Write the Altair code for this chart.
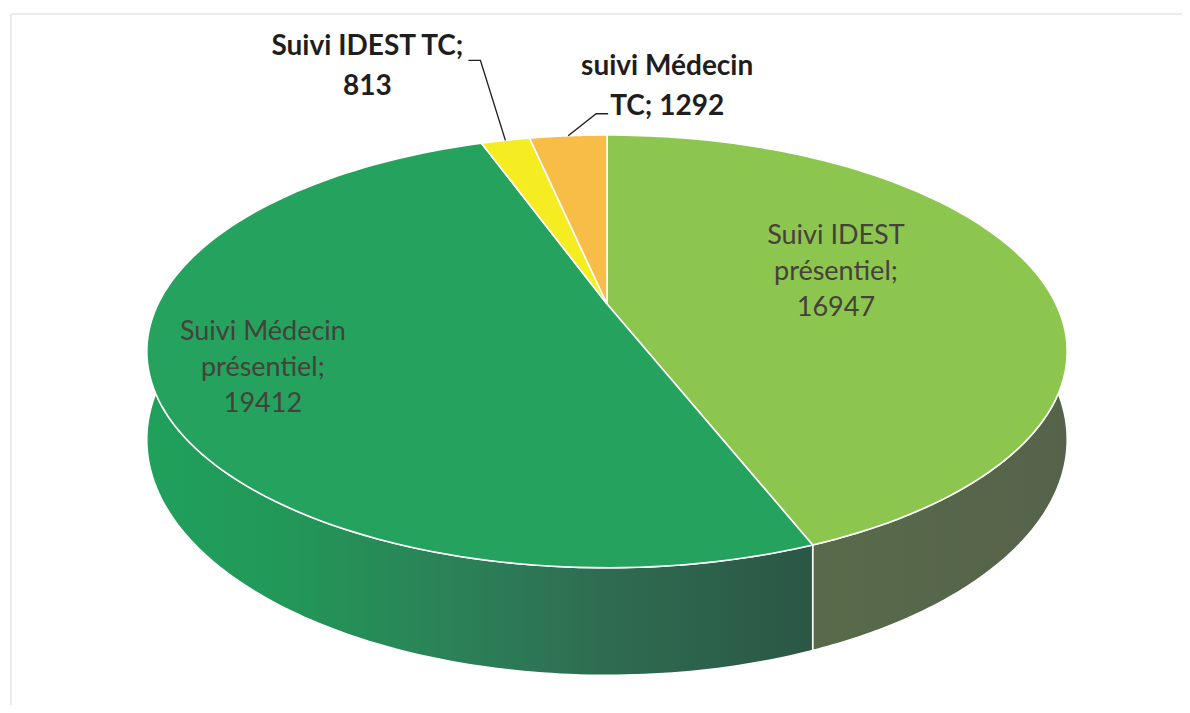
import altair as alt
import pandas as pd

# ---- data ----
categories = ["Suivi IDEST présentiel", "Suivi Médecin présentiel", "Suivi IDEST TC", "suivi Médecin TC"]
values = [16947, 19412, 813, 1292]
label_templates = ["Suivi IDEST|présentiel;|{}", "Suivi Médecin|présentiel;|{}", "Suivi IDEST TC;|{}", "suivi Médecin|TC; {}"]

# ---- styles ----
top_colors = ["#8cc64f", "#25a25e", "#f6ec22", "#f7bd47"]
side_stops = [
    [(0.0, "#596a4b"), (1.0, "#55634a")],
    [(0.0, "#20a05c"), (0.2, "#229858"), (0.5, "#2c7e57"), (0.68, "#2e6c51"), (1.0, "#2b5745")],
    [(0.0, "#c9c21c"), (1.0, "#b8b018")],
    [(0.0, "#c99a3a"), (1.0, "#b88a32")],
]

# ---- layout (3D projection + label placement) ----
X0, Y0, A, B, K, H = 607, 304, 449, 206, 0.219, 84
N = 120
label_radius = [0.53, 0.77, 1.0, 1.0]
label_dx = [0, 0, -138, 99]
label_dy = [-48, -31, -93, -69]
is_outer = [False, False, True, True]
elbow_dx = [0, 0, -25, 28]
elbow_dy = [0, 0, -80, -22]
end_dx = [0, 0, -37, 40]

df = pd.DataFrame({
    "cat": categories,
    "value": values,
    "order": list(range(len(categories))),
    "lab": [t.format(v) for t, v in zip(label_templates, values)],
    "lr": label_radius, "ldx": label_dx, "ldy": label_dy, "outer": is_outer,
    "edx": elbow_dx, "edy": elbow_dy, "ndx": end_dx,
})

xs = alt.Scale(domain=[8, 1182], nice=False, zero=False)
ys = alt.Scale(domain=[8, 705], nice=False, zero=False, reverse=True)
X = alt.X("px:Q", scale=xs, axis=None)
Y = alt.Y("py:Q", scale=ys, axis=None)

PX = f"{X0} + {A}*datum.u/(1+{K}*datum.v)"
PY = f"{Y0} - {B}*datum.v/(1+{K}*datum.v)"


def base():
    return (alt.Chart(df)
            .transform_joinaggregate(total="sum(value)")
            .transform_window(cum="sum(value)", sort=[alt.SortField("order")], frame=[None, 0])
            .transform_calculate(a0="2*PI*(datum.cum-datum.value)/datum.total")
            .transform_calculate(a1="2*PI*datum.cum/datum.total"))


layers = []

# side walls (front half only)
for cat, stops in zip(categories, side_stops):
    grad = alt.LinearGradient(
        gradient="linear", x1=0, x2=1, y1=0, y2=0,
        stops=[alt.GradientStop(offset=o, color=c) for o, c in stops])
    side = (base()
            .transform_filter(alt.datum.cat == cat)
            .transform_calculate(s0="max(datum.a0, PI/2)")
            .transform_calculate(s1="min(datum.a1, 3*PI/2)")
            .transform_filter("datum.s1 > datum.s0")
            .transform_calculate(idx=f"sequence(0, {2*N+3})")
            .transform_flatten(["idx"])
            .transform_calculate(ang=f"datum.idx <= {N} ? datum.s0 + (datum.s1-datum.s0)*datum.idx/{N} : "
                                     f"(datum.idx <= {2*N+1} ? datum.s1 - (datum.s1-datum.s0)*(datum.idx-{N+1})/{N} : datum.s0)")
            .transform_calculate(bot=f"(datum.idx > {N} && datum.idx <= {2*N+1}) ? 1 : 0")
            .transform_calculate(u="sin(datum.ang)")
            .transform_calculate(v="cos(datum.ang)")
            .transform_calculate(px=PX)
            .transform_calculate(py=f"{PY} + datum.bot*{H}/(1+{K}*datum.v)")
            .mark_line(fill=grad, stroke="white", strokeWidth=1.5, strokeJoin="round")
            .encode(x=X, y=Y, order="idx:Q"))
    layers.append(side)

# top faces
for cat, col in zip(categories, top_colors):
    top = (base()
           .transform_filter(alt.datum.cat == cat)
           .transform_calculate(idx=f"sequence(0, {N+3})")
           .transform_flatten(["idx"])
           .transform_calculate(r=f"(datum.idx == 0 || datum.idx == {N+2}) ? 0 : 1")
           .transform_calculate(ang=f"datum.a0 + (datum.a1-datum.a0)*clamp(datum.idx-1, 0, {N})/{N}")
           .transform_calculate(u="datum.r*sin(datum.ang)")
           .transform_calculate(v="datum.r*cos(datum.ang)")
           .transform_calculate(px=PX)
           .transform_calculate(py=PY)
           .mark_line(fill=col, stroke="white", strokeWidth=1.6, strokeJoin="round")
           .encode(x=X, y=Y, order="idx:Q"))
    layers.append(top)

# leader lines
leader = (base()
          .transform_filter("datum.outer")
          .transform_calculate(mid="(datum.a0+datum.a1)/2")
          .transform_calculate(u="sin(datum.mid)")
          .transform_calculate(v="cos(datum.mid)")
          .transform_calculate(rx=PX)
          .transform_calculate(ry=PY)
          .transform_calculate(idx="sequence(0, 3)")
          .transform_flatten(["idx"])
          .transform_calculate(px="datum.rx + (datum.idx == 0 ? 0 : (datum.idx == 1 ? datum.edx : datum.ndx))")
          .transform_calculate(py="datum.ry + (datum.idx == 0 ? 0 : datum.edy)")
          .mark_line(color="#222222", strokeWidth=1.4)
          .encode(x=X, y=Y, order="idx:Q", detail="cat:N"))
layers.append(leader)

# labels
lab_base = (base()
            .transform_calculate(mid="(datum.a0+datum.a1)/2")
            .transform_calculate(u="datum.lr*sin(datum.mid)")
            .transform_calculate(v="datum.lr*cos(datum.mid)")
            .transform_calculate(px=PX + " + datum.ldx")
            .transform_calculate(py=PY + " + datum.ldy")
            .transform_calculate(txt="split(datum.lab, '|')"))

inner = (lab_base.transform_filter("!datum.outer")
         .mark_text(font="Lato", fontSize=27, color="#45413b", lineHeight=36, align="center", baseline="middle")
         .encode(x=X, y=Y, text=alt.Text("txt:N")))
outer = (lab_base.transform_filter("datum.outer")
         .mark_text(font="Lato", fontSize=28, fontWeight="bold", color="#1e1e1e", lineHeight=40, align="center", baseline="middle")
         .encode(x=X, y=Y, text=alt.Text("txt:N")))
layers += [inner, outer]

# faint scan frame
frame_src = alt.Chart(alt.Data(values=[{"k": 1}]))
layers.append(frame_src.mark_rule(color="#e4e4e4", strokeWidth=1.5)
              .encode(x=alt.value(3), y=alt.value(6), y2=alt.value(697)))
layers.append(frame_src.mark_rule(color="#e4e4e4", strokeWidth=1.5)
              .encode(x=alt.value(3), x2=alt.value(1174), y=alt.value(6)))

chart = (alt.layer(*layers)
         .properties(width=1174, height=697, padding=0, autosize="none", background="white")
         .configure_view(stroke=None))

chart.save("out.html", embed_options={"renderer": "svg", "actions": False})
